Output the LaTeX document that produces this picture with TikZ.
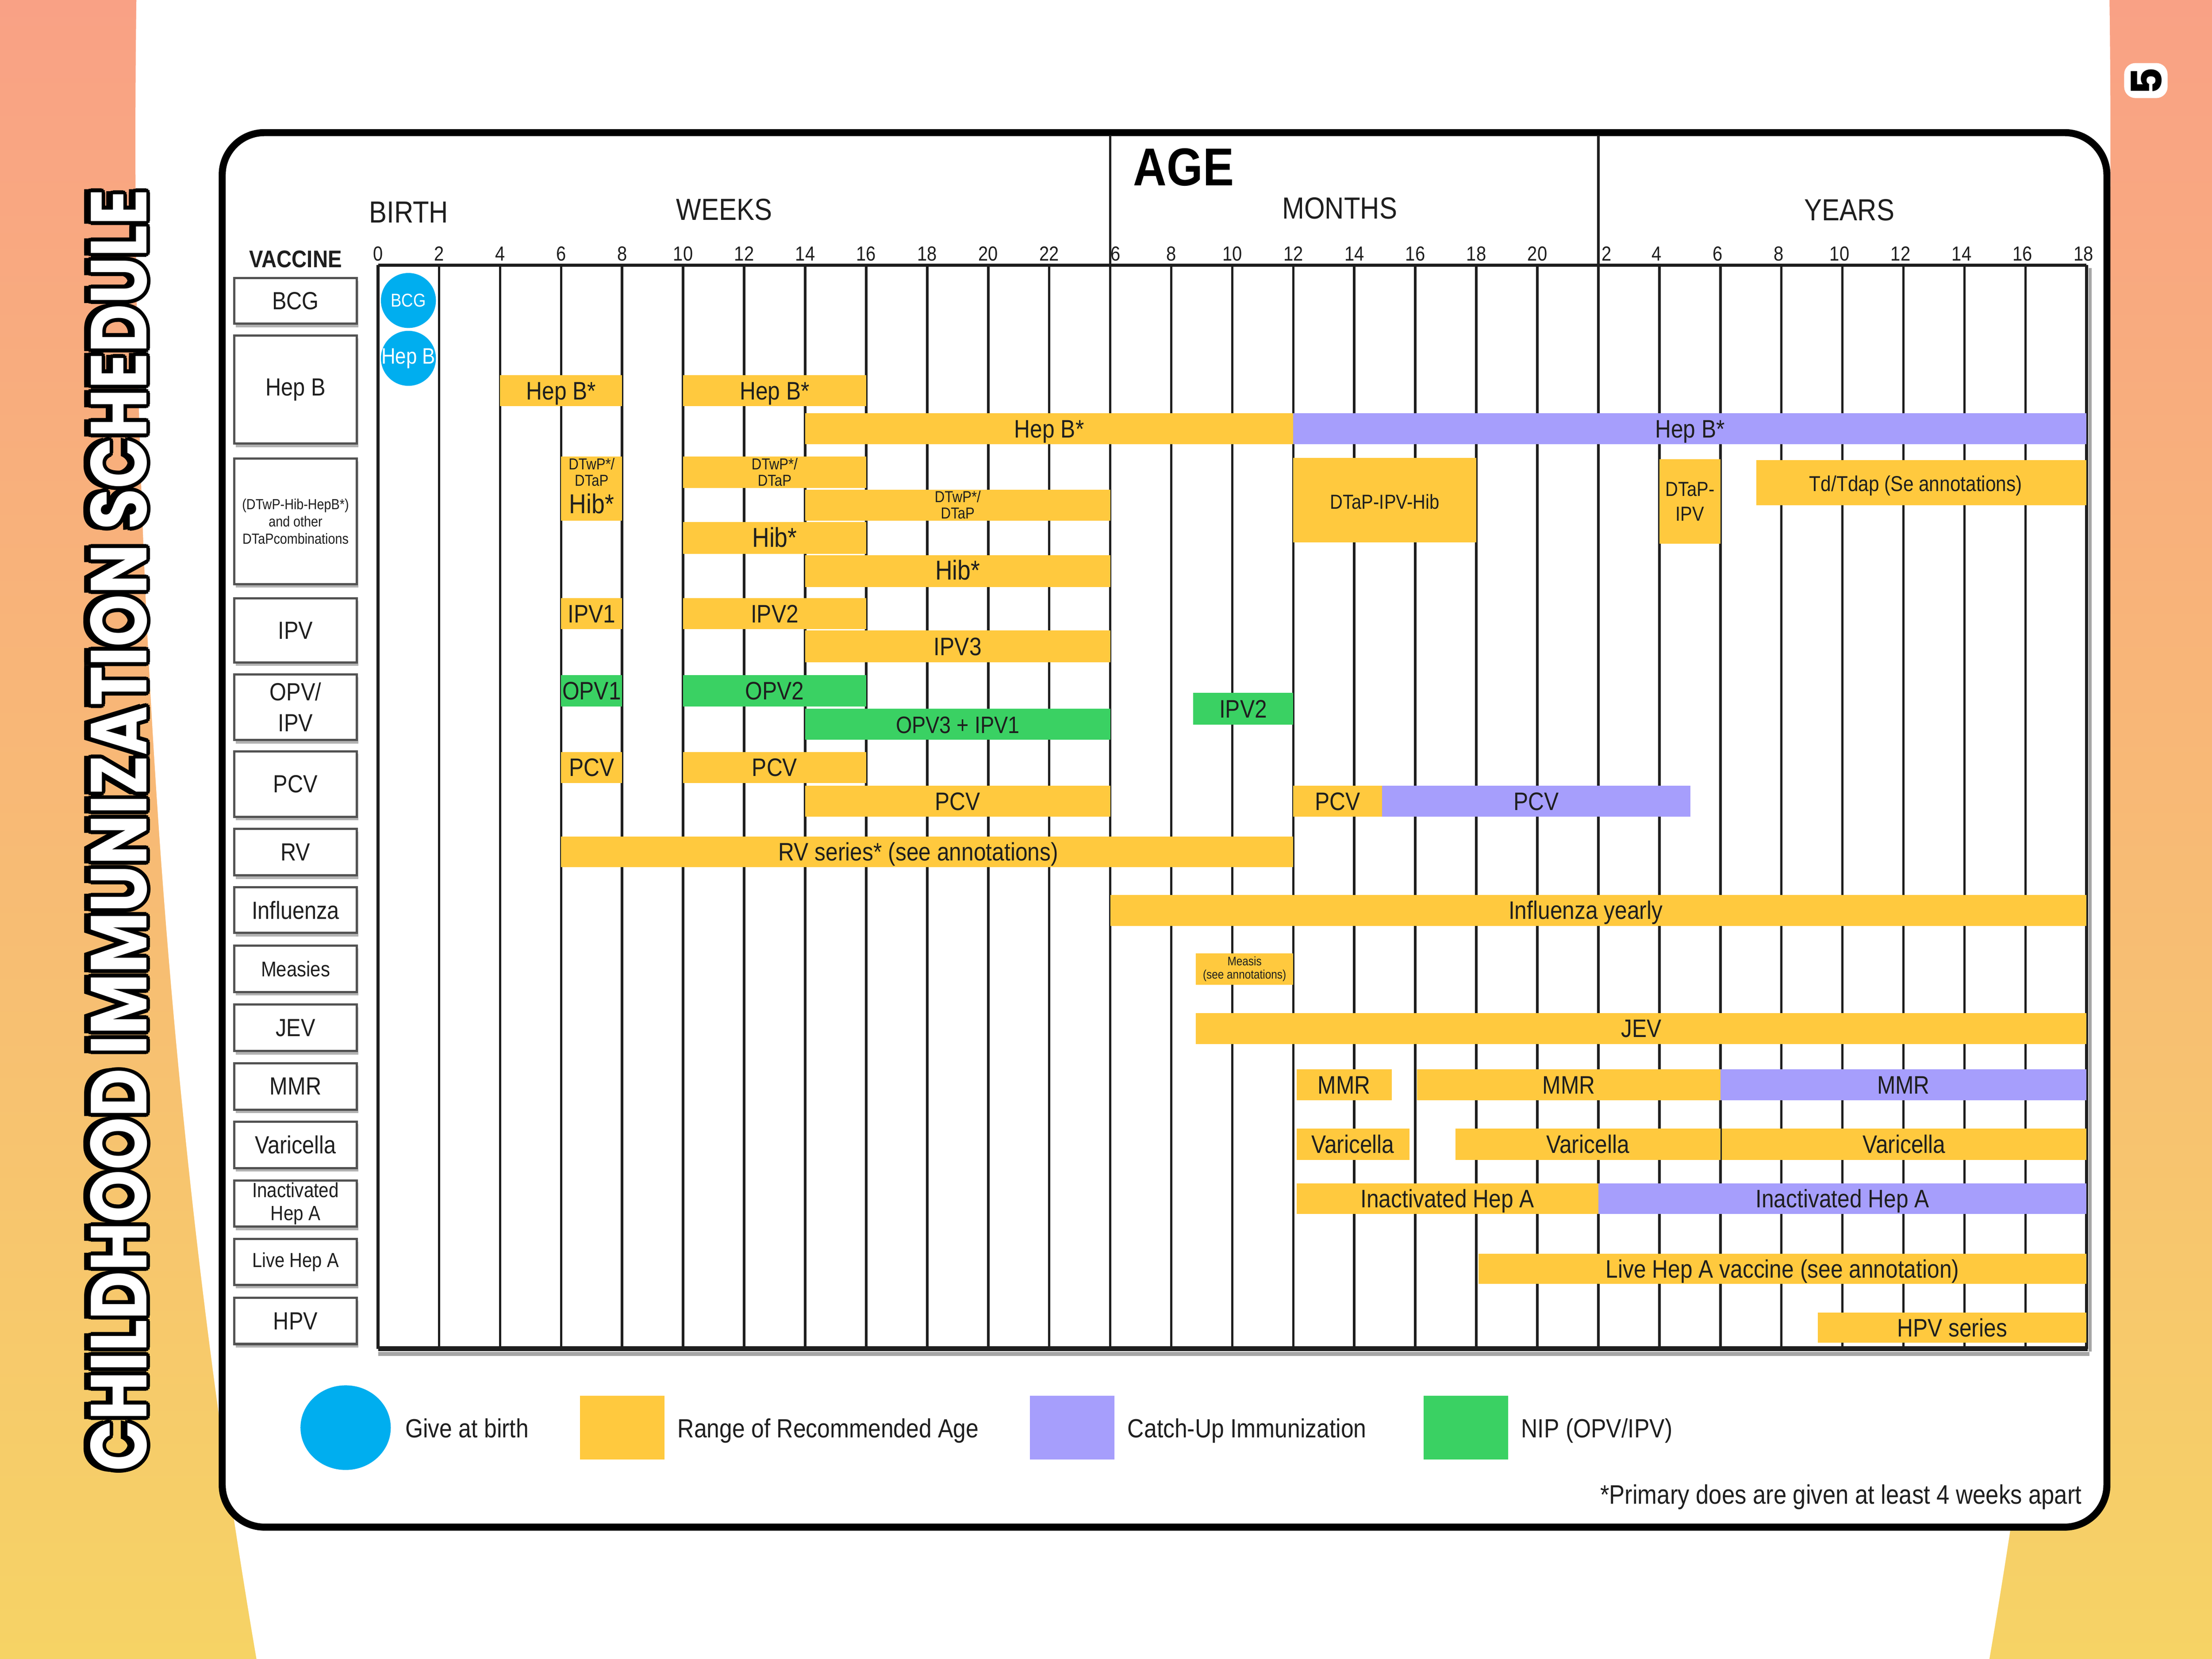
\documentclass[tikz,border=0pt]{standalone}
\usepackage{fontspec}
\usepackage{graphicx}
\setmainfont{Liberation Sans}[FakeStretch=0.87]
\newfontfamily\titlefont{Poppins}
\definecolor{barY}{RGB}{255,201,62}
\definecolor{barP}{RGB}{166,158,252}
\definecolor{barG}{RGB}{58,209,99}
\definecolor{birth}{RGB}{0,174,239}
\definecolor{bgTop}{RGB}{249,161,133}
\definecolor{bgBot}{RGB}{246,211,101}
\definecolor{ink}{RGB}{30,30,30}
\tikzset{
  gridln/.style={draw=ink, line width=1.0pt},
  one/.style={inner sep=0pt, text=ink, font=\fontsize{10.2}{12}\selectfont, text height=0.72em, text depth=0pt},
  multi/.style={inner sep=0pt, text=ink, align=center},
  boxst/.style={draw=black!68, line width=0.9pt, fill=white},
  boxlbl/.style={inner sep=0pt, text=ink, align=center},
  tick/.style={inner sep=0pt, anchor=base, font=\fontsize{8.2}{10}\selectfont, text=ink},
  head/.style={inner sep=0pt, anchor=base, font=\fontsize{12.3}{14}\selectfont, text=ink},
  leg/.style={inner sep=0pt, anchor=base west, font=\fontsize{10.6}{12}\selectfont, text=ink},
}
% bar: [style]{name}{x1}{y1}{x2}{y2}{colour}{label x}{text}
\newcommand\vb[9][one]{%
  \fill[#7] (#3,#4) rectangle (#5,#6);
  \node[#1] (#2) at (#8,{(#4+#6)/2}) {#9};}
% vaccine box: [font]{name}{y1}{y2}{text}
\newcommand\vacbox[5][\fontsize{10}{12}\selectfont]{%
  \fill[black!30] (167,#3+2) rectangle (254,#4+2.5);
  \draw[boxst] (166,#3) rectangle (253,#4);
  \node[boxlbl,font=#1] (#2) at (209.5,{(#3+#4)/2}) {#5};}
\newcommand\ttltext{\resizebox{18.18cm}{0.8cm}{\titlefont\bfseries CHILDHOOD IMMUNIZATION SCHEDULE}}
\begin{document}
\begin{tikzpicture}[x=0.02cm,y=-0.02cm]
\useasboundingbox (0,0) rectangle (1568,1176);
% background
\shade[top color=bgTop, bottom color=bgBot] (0,0) rectangle (1568,1176);
\begin{scope}
  \clip (0,0) rectangle (1568,1176);
  \fill[white] (796,100) ellipse (700 and 2241);
\end{scope}
% title
\foreach \a in {0,30,...,330} {
  \node[rotate=90, inner sep=0pt, text=black] (ttlo\a) at ([shift={(\a:2.8)}]84,588.5) {\ttltext};
}
\foreach \s in {-2,0,2} {
  \node[rotate=90, inner sep=0pt, text=black] (ttls\s) at (79.5,588.5+\s) {\ttltext};
}
\node[rotate=90, inner sep=0pt, text=white] (title) at (84,588.5) {\ttltext};
% page number
\fill[white, rounded corners=0.16cm] (1505.7,44.7) rectangle (1536.5,69.5);
\node[rotate=90, inner sep=0pt, text=black, font=\titlefont\bfseries\fontsize{17}{17}\selectfont] (pagenum) at (1521.5,57.5) {5};
% card
\draw[black, line width=0.1cm, fill=white, rounded corners=0.6cm] (157.5,94) rectangle (1493.5,1082.5);
% headers
\node[head] (birth) at (289.7,158) {BIRTH};
\node[head] (weeks) at (513.3,156) {WEEKS};
\node[inner sep=0pt, anchor=base, text=black, font=\bfseries\fontsize{21.5}{24}\selectfont] (age) at (839,131.5) {AGE};
\node[head] (months) at (949.6,155) {MONTHS};
\node[head] (years) at (1311,156.4) {YEARS};
\node[inner sep=0pt, anchor=base, text=ink, font=\bfseries\fontsize{9.7}{12}\selectfont] (vaccine) at (209.5,189.5) {VACCINE};
% ticks
\foreach \v [count=\i from 0] in {0,2,...,22} {
  \node[tick] (tw\i) at ({268+43.25*\i},185) {\v};
}
\node[tick] (tm12) at (790.8,185) {6};
\foreach \v [count=\i from 13] in {8,10,...,20} {
  \node[tick] (tm\i) at ({268+43.25*\i},185) {\v};
}
\node[tick] (ty20) at (1139,185) {2};
\foreach \v [count=\i from 21] in {4,6,...,16} {
  \node[tick] (ty\i) at ({268+43.25*\i-2},185) {\v};
}
\node[tick] (ty28) at (1477,185) {18};
% grid
\foreach \k in {1,...,27} {
  \draw[gridln] ({268+43.25*\k},188) -- ({268+43.25*\k},956);
}
\draw[gridln] (787,96) -- (787,188);
\draw[gridln] (1133,96) -- (1133,188);
\draw[gridln, line width=1.3pt] (268,188) -- (268,956);
\draw[black!35, line width=1.3pt] (1481.5,190) -- (1481.5,958);
\draw[gridln, line width=1.3pt] (1479,188) -- (1479,956);
\draw[gridln, line width=1.3pt] (268,188) -- (1479,188);
\draw[black!35, line width=1.5pt] (268,959.8) -- (1481,959.8);
\draw[ink, line width=2pt] (268,956) -- (1480,956);
% vaccine boxes
\vacbox{vbcg}{197}{229.5}{BCG}
\vacbox{vhepb}{238}{314.5}{Hep B}
\vacbox[\fontsize{5.9}{6.95}\selectfont]{vdtwp}{325}{414}{(DTwP-Hib-HepB*)\\and other\\DTaPcombinations}
\vacbox{vipv}{424}{469.6}{IPV}
\vacbox[\fontsize{10}{12.5}\selectfont]{vopv}{478}{524.5}{OPV/\\IPV}
\vacbox{vpcv}{532.5}{579}{PCV}
\vacbox{vrv}{587.5}{620.5}{RV}
\vacbox{vflu}{629}{661.3}{Influenza}
\vacbox[\fontsize{8.6}{10}\selectfont]{vmea}{670.4}{703.2}{Measies}
\vacbox{vjev}{712}{745}{JEV}
\vacbox{vmmr}{753.6}{786.6}{MMR}
\vacbox{vvar}{795}{828}{Varicella}
\vacbox[\fontsize{8.3}{9.2}\selectfont]{viha}{836.7}{869.5}{Inactivated\\Hep A}
\vacbox[\fontsize{8.2}{10}\selectfont]{vlha}{878.2}{910.8}{Live Hep A}
\vacbox{vhpv}{920}{952.7}{HPV}
% birth circles
\fill[birth] (289.5,213) circle (19.5);
\node[inner sep=0pt, text=white, font=\fontsize{7.5}{9}\selectfont] (cbcg) at (289.5,213) {BCG};
\fill[birth] (289.5,254) circle (19.5);
\node[inner sep=0pt, text=white, font=\fontsize{9}{10}\selectfont] (chepb) at (289.5,254) {Hep B};
% Hep B
\vb{hb1}{354.5}{266}{441}{288}{barY}{397.75}{Hep B*}
\vb{hb2}{484.25}{266}{614}{288}{barY}{549.1}{Hep B*}
\vb{hb3}{570.75}{293}{916.75}{315}{barY}{743.75}{Hep B*}
\vb{hb4}{916.75}{293}{1479}{315}{barP}{1197.9}{Hep B*}
% DTwP / Hib
\vb[multi,font=\fontsize{6.4}{6.6}\selectfont]{dt1}{397.75}{323.5}{441}{346}{barY}{419.4}{DTwP*/\\DTaP}
\vb[one,font=\fontsize{11}{12}\selectfont]{hib1}{397.75}{346}{441}{369}{barY}{419.4}{Hib*}
\vb[multi,font=\fontsize{6.4}{6.6}\selectfont]{dt2}{484.25}{323.5}{614}{346}{barY}{549.1}{DTwP*/\\DTaP}
\vb[multi,font=\fontsize{6.4}{6.6}\selectfont]{dt3}{570.75}{347}{787}{369}{barY}{678.9}{DTwP*/\\DTaP}
\vb[one,font=\fontsize{11}{12}\selectfont]{hib2}{484.25}{370}{614}{392.6}{barY}{549.1}{Hib*}
\vb[one,font=\fontsize{11}{12}\selectfont]{hib3}{570.75}{393.6}{787}{416}{barY}{678.9}{Hib*}
\vb[one,font=\fontsize{8.2}{10}\selectfont]{dtih}{916.75}{324.5}{1046.5}{384.5}{barY}{981.6}{DTaP-IPV-Hib}
\vb[multi,font=\fontsize{8.2}{10}\selectfont]{dtipv}{1176.25}{325.5}{1219.5}{385.5}{barY}{1197.9}{DTaP-\\IPV}
\vb[one,font=\fontsize{8.7}{10}\selectfont]{td}{1245}{326}{1479}{358}{barY}{1358}{Td/Tdap (Se annotations)}
% IPV
\vb{ipv1}{397.75}{424}{441}{446}{barY}{419.4}{IPV1}
\vb{ipv2}{484.25}{424}{614}{446}{barY}{549.1}{IPV2}
\vb{ipv3}{570.75}{447}{787}{469.5}{barY}{678.9}{IPV3}
% OPV
\vb{opv1}{397.75}{478.5}{441}{500.8}{barG}{419.4}{OPV1}
\vb{opv2}{484.25}{478.5}{614}{500.8}{barG}{549.1}{OPV2}
\vb[one,font=\fontsize{9.6}{12}\selectfont]{opv3}{570.75}{502.5}{787}{524.4}{barG}{678.9}{OPV3 + IPV1}
\vb{ipvm}{845.7}{491}{916.75}{513.7}{barG}{881.2}{IPV2}
% PCV
\vb{pcv1}{397.75}{533}{441}{555}{barY}{419.4}{PCV}
\vb{pcv2}{484.25}{533}{614}{555}{barY}{549.1}{PCV}
\vb{pcv3}{570.75}{557}{787}{579}{barY}{678.9}{PCV}
\vb{pcv4}{916.75}{557}{979.6}{579}{barY}{948.2}{PCV}
\vb{pcv5}{979.6}{557}{1198.4}{579}{barP}{1089}{PCV}
% RV, influenza, measles, JEV
\vb{rv}{397.75}{593}{916.75}{614.7}{barY}{651}{RV series* (see annotations)}
\vb{flu}{787}{634.3}{1479}{656.3}{barY}{1124}{Influenza yearly}
\vb[multi,font=\fontsize{5}{5.4}\selectfont]{mea}{847.7}{675.8}{916.75}{698}{barY}{882.2}{Measis\\(see annotations)}
\vb{jev}{847.7}{718}{1479}{740}{barY}{1163.4}{JEV}
% MMR
\vb{mmr1}{919}{758}{986.5}{780}{barY}{952.75}{MMR}
\vb{mmr2}{1004.4}{758}{1219.5}{780}{barY}{1112}{MMR}
\vb{mmr3}{1219.5}{758}{1479}{780}{barP}{1349.25}{MMR}
% Varicella
\vb{var1}{919}{800}{999}{822.2}{barY}{959}{Varicella}
\vb{var2}{1031.7}{800}{1219.5}{822.2}{barY}{1125.6}{Varicella}
\vb{var3}{1220.5}{800}{1479}{822.2}{barY}{1349.75}{Varicella}
% Hep A
\vb{iha1}{919}{839}{1133}{860.5}{barY}{1026}{Inactivated Hep A}
\vb{iha2}{1133}{839}{1479}{860.5}{barP}{1306}{Inactivated Hep A}
\vb{lha}{1048}{888.6}{1479}{910.2}{barY}{1263.5}{Live Hep A vaccine (see annotation)}
\vb{hpv}{1288.6}{930.3}{1479}{951.8}{barY}{1383.8}{HPV series}
% legend
\fill[birth] (245,1012) ellipse (32 and 30);
\fill[barY] (411,989.3) rectangle (471,1034.6);
\fill[barP] (730,989.3) rectangle (790,1034.6);
\fill[barG] (1009,989.3) rectangle (1069,1034.6);
\node[leg] (l1) at (287,1019) {Give at birth};
\node[leg] (l2) at (480,1019) {Range of Recommended Age};
\node[leg] (l3) at (799,1019) {Catch-Up Immunization};
\node[leg] (l4) at (1078,1019) {NIP (OPV/IPV)};
\node[inner sep=0pt, anchor=base east, text=ink, font=\fontsize{10.8}{12}\selectfont] (foot) at (1476,1066) {*Primary does are given at least 4 weeks apart};
\end{tikzpicture}
\end{document}
